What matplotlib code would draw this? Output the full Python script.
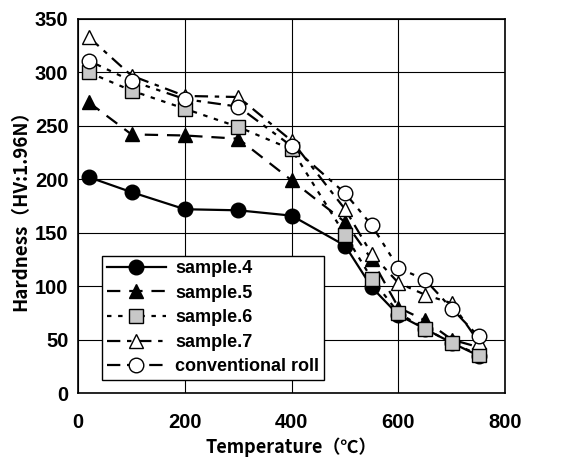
import numpy as np
import matplotlib.pyplot as plt

plt.rcParams['font.family'] = ['Liberation Sans', 'DejaVu Sans']
plt.rcParams['font.weight'] = 'bold'

temp = [20, 100, 200, 300, 400, 500, 550, 600, 650, 700, 750]
s4 = [202, 188, 172, 171, 166, 138, 99, 73, 60, 47, 35]
s5 = [272, 242, 241, 238, 199, 160, 125, 80, 68, 50, 43]
s6 = [300, 283, 266, 249, 228, 148, 107, 75, 60, 47, 36]
s7 = [333, 297, 278, 277, 236, 172, 130, 103, 92, 84, 48]
conv = [311, 292, 275, 268, 231, 187, 157, 117, 106, 79, 53]

fig = plt.figure(figsize=(5.62, 4.63), dpi=100)
ax = fig.add_axes([0.139, 0.151, 0.760, 0.808])

ms = 10.5
ax.plot(temp, s4, '-', color='black', lw=1.6, marker='o', ms=ms, mfc='black', mec='black', label='sample.4', zorder=3)
ax.plot(temp, s5, color='black', lw=1.6, ls=(0, (6, 4)), marker='^', ms=ms, mfc='black', mec='black', label='sample.5', zorder=3)
ax.plot(temp, s6, color='black', lw=1.6, ls=(0, (2, 3)), marker='s', ms=ms, mfc='#c8c8c8', mec='black', label='sample.6', zorder=3)
ax.plot(temp, s7, color='black', lw=1.6, ls=(0, (6, 3, 2, 3)), marker='^', ms=ms, mfc='white', mec='black', label='sample.7', zorder=3)
ax.plot(temp, conv, color='black', lw=1.6, ls=(0, (6, 3, 2, 3, 2, 3)), marker='o', ms=ms, mfc='white', mec='black', label='conventional roll', zorder=3)

ax.set_xlim(0, 800)
ax.set_ylim(0, 350)
ax.set_xticks(np.arange(0, 801, 200))
ax.set_yticks(np.arange(0, 351, 50))
ax.grid(True, color='black', lw=0.8)
ax.tick_params(axis='y', length=0, labelsize=14.5, pad=7)
ax.tick_params(axis='x', length=0, labelsize=14.5, pad=14)
for s in ax.spines.values():
    s.set_linewidth(1.2)

cjk = ['Noto Sans CJK JP', 'DejaVu Sans']
ax.set_xlabel('Temperature\uff08\u2103\uff09', fontsize=13, fontweight='bold', labelpad=4, family=cjk)
ax.set_ylabel('Hardness\uff08HV:1.96N\uff09', fontsize=13.5, fontweight='bold', labelpad=3, family=cjk)

leg = ax.legend(loc='lower left', bbox_to_anchor=(0.056, 0.035), fontsize=13, frameon=True,
                fancybox=False, edgecolor='black', framealpha=1, handlelength=3.3,
                borderpad=0.25, labelspacing=0.42, handletextpad=0.5, borderaxespad=0)
leg.get_frame().set_linewidth(1.0)

fig.savefig('out.png', dpi=100)
